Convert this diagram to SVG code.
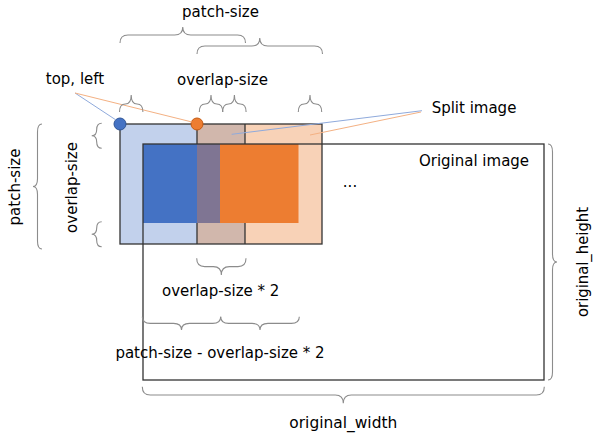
<svg xmlns="http://www.w3.org/2000/svg" width="604" height="444" viewBox="0 0 604 444">
<style>
text{font-family:"DejaVu Sans","Liberation Sans",sans-serif;font-size:15px;fill:#000;text-anchor:middle}
.br{fill:none;stroke:#8c8c8c;stroke-width:1.1}
.edge{fill:none;stroke:#333;stroke-width:1.3}
.lb{stroke:#8FAADC;stroke-width:1;fill:none}
.lo{stroke:#F4B183;stroke-width:1;fill:none}
</style>
<rect width="604" height="444" fill="#fff"/>
<g id="patches">
  <rect x="120" y="124" width="77" height="120" fill="#C2D1EC"/>
  <rect x="197" y="124" width="48" height="120" fill="#D1B7AC"/>
  <rect x="245" y="124" width="77" height="120" fill="#F8D2B7"/>
  <rect class="edge" x="120" y="124" width="202" height="120"/>
  <line class="edge" x1="197" y1="124" x2="197" y2="244"/>
  <line class="edge" x1="245" y1="124" x2="245" y2="244"/>
  <rect x="143" y="144" width="54" height="79" fill="#4472C4"/>
  <rect x="197" y="144" width="23" height="79" fill="#7F7593"/>
  <rect x="220" y="144" width="78.5" height="79" fill="#ED7D31"/>
</g>
<g id="original-image">
  <rect class="edge" x="143" y="144" width="401" height="236"/>
  <text x="474" y="166">Original image</text>
  <text x="350" y="187">...</text>
</g>
<g id="dots">
  <circle cx="120" cy="124" r="6" fill="#4472C4" stroke="#2F5597" stroke-width="1"/>
  <circle cx="197" cy="124" r="6" fill="#ED7D31" stroke="#C55A11" stroke-width="1"/>
</g>
<g id="connectors">
  <line class="lb" x1="75" y1="93" x2="116" y2="120"/>
  <line class="lo" x1="75" y1="93" x2="192" y2="122"/>
  <line class="lb" x1="422" y1="110.7" x2="231.7" y2="134.3"/>
  <line class="lo" x1="421" y1="112" x2="310" y2="135"/>
</g>
<g id="braces">
  <path class="br" d="M120 43 Q120 35 128 35 L174.75 35 Q182.75 35 182.75 27 Q182.75 35 190.75 35 L237.5 35 Q245.5 35 245.5 43"/>
  <path class="br" d="M197 54 Q197 46 205 46 L251.75 46 Q259.75 46 259.75 38 Q259.75 46 267.75 46 L314.5 46 Q322.5 46 322.5 54"/>
  <path class="br" d="M119.5 112 Q119.5 104 125.35 104 Q131.2 104 131.2 95 Q131.2 104 137.05 104 Q142.9 104 142.9 112"/>
  <path class="br" d="M199.3 112 Q199.3 104 205.15 104 Q211 104 211 95 Q211 104 216.85 104 Q222.7 104 222.7 112"/>
  <path class="br" d="M222.7 112 Q222.7 104 228.55 104 Q234.4 104 234.4 95 Q234.4 104 240.25 104 Q246.1 104 246.1 112"/>
  <path class="br" d="M298.3 112 Q298.3 104 304.15 104 Q310 104 310 95 Q310 104 315.85 104 Q321.7 104 321.7 112"/>
  <path class="br" d="M42 124 Q37.5 124 37.5 132 L37.5 178.5 Q37.5 186.5 33 186.5 Q37.5 186.5 37.5 194.5 L37.5 241 Q37.5 249 42 249"/>
  <path class="br" d="M101.7 123.3 Q96.7 123.3 96.7 129.55 Q96.7 135.8 91.7 135.8 Q96.7 135.8 96.7 142.05 Q96.7 148.3 101.7 148.3"/>
  <path class="br" d="M101.7 221.7 Q96.7 221.7 96.7 227.95 Q96.7 234.2 91.7 234.2 Q96.7 234.2 96.7 240.45 Q96.7 246.7 101.7 246.7"/>
  <path class="br" d="M196.7 258.3 Q196.7 266.65 204.7 266.65 L213.35 266.65 Q221.35 266.65 221.35 275 Q221.35 266.65 229.35 266.65 L238 266.65 Q246 266.65 246 258.3"/>
  <path class="br" d="M142.3 316.7 Q142.3 323.35 150.3 323.35 L173.5 323.35 Q181.5 323.35 181.5 330 Q181.5 323.35 189.5 323.35 L212.7 323.35 Q220.7 323.35 220.7 316.7"/>
  <path class="br" d="M220.7 316.7 Q220.7 323.35 228.7 323.35 L252 323.35 Q260 323.35 260 330 Q260 323.35 268 323.35 L291.3 323.35 Q299.3 323.35 299.3 316.7"/>
  <path class="br" d="M142.3 386.7 Q142.3 395 150.3 395 L335.3 395 Q343.3 395 343.3 403.3 Q343.3 395 351.3 395 L536.3 395 Q544.3 395 544.3 386.7"/>
  <path class="br" d="M548 144 Q552.5 144 552.5 152 L552.5 254 Q552.5 262 557 262 Q552.5 262 552.5 270 L552.5 372 Q552.5 380 548 380"/>
</g>
<g id="labels">
  <text x="220.5" y="17">patch-size</text>
  <text x="75" y="84">top, left</text>
  <text x="222.5" y="85">overlap-size</text>
  <text x="474" y="113">Split image</text>
  <text transform="translate(19.5,187) rotate(-90)">patch-size</text>
  <text transform="translate(76.5,187.5) rotate(-90)">overlap-size</text>
  <text x="220.7" y="296">overlap-size * 2</text>
  <text x="220" y="358">patch-size - overlap-size * 2</text>
  <text x="343.3" y="428" textLength="108" lengthAdjust="spacingAndGlyphs">original_width</text>
  <text transform="translate(588,262) rotate(-90)" textLength="110" lengthAdjust="spacingAndGlyphs">original_height</text>
</g>
</svg>
